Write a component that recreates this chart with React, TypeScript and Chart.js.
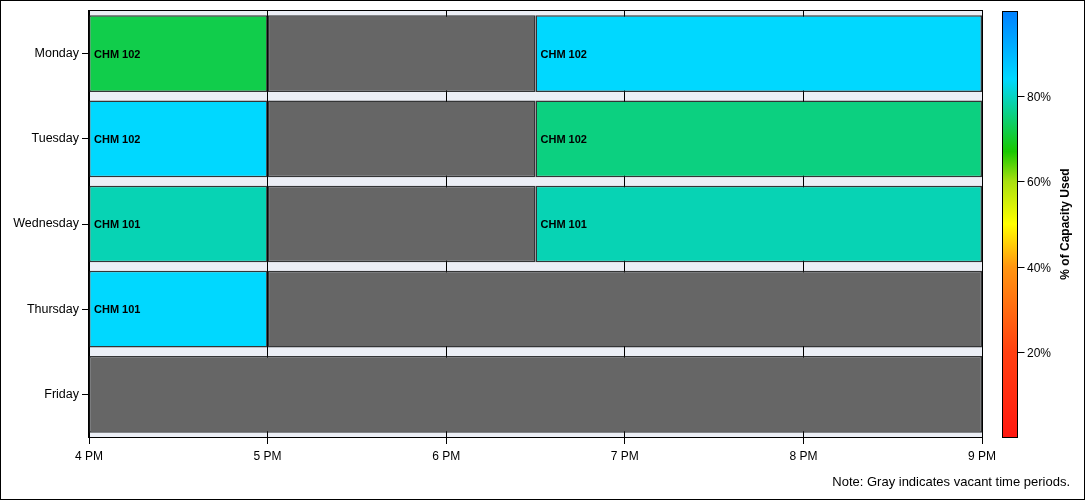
import React, { useEffect, useRef } from "react";
import { Chart, registerables } from "chart.js";

Chart.register(...registerables);

const days = ["Monday", "Tuesday", "Wednesday", "Thursday", "Friday"];

const sessionDay = ["Monday", "Monday", "Tuesday", "Tuesday", "Wednesday", "Wednesday", "Thursday"];
const sessionStart = [16, 18.5, 16, 18.5, 16, 18.5, 16];
const sessionEnd = [17, 21, 17, 21, 17, 21, 17];
const sessionCourse = ["CHM 102", "CHM 102", "CHM 102", "CHM 102", "CHM 101", "CHM 101", "CHM 101"];
const sessionCapacity = [72, 84, 84, 75.5, 79, 79, 84];

const vacantDay = ["Monday", "Tuesday", "Wednesday", "Thursday", "Friday"];
const vacantStart = [17, 17, 17, 17, 16];
const vacantEnd = [18.5, 18.5, 18.5, 21, 21];

const hourValues = [16, 17, 18, 19, 20, 21];
const hourLabels = ["4 PM", "5 PM", "6 PM", "7 PM", "8 PM", "9 PM"];

const legendTicks = [20, 40, 60, 80];
const legendTitle = "% of Capacity Used";
const noteText = "Note: Gray indicates vacant time periods.";

const FONT = "'Liberation Sans', Arial, sans-serif";

// colour ramp used by the legend and the bars (position 0..1)
const rampStops: [number, number[]][] = [
  [0, [255, 24, 16]],
  [0.2, [255, 64, 16]],
  [0.4, [255, 150, 16]],
  [0.5, [255, 255, 0]],
  [0.6, [168, 224, 16]],
  [0.67, [24, 200, 0]],
  [0.84, [0, 216, 255]],
  [1, [0, 128, 255]],
];

function rampColor(pct: number): string {
  const t = Math.max(0, Math.min(1, pct / 100));
  for (let i = 0; i < rampStops.length - 1; i++) {
    const [a, ca] = rampStops[i];
    const [b, cb] = rampStops[i + 1];
    if (t >= a && t <= b) {
      const f = (t - a) / (b - a);
      const c = ca.map((v, k) => Math.round(v + (cb[k] - v) * f));
      return `rgb(${c[0]},${c[1]},${c[2]})`;
    }
  }
  const c = rampStops[rampStops.length - 1][1];
  return `rgb(${c[0]},${c[1]},${c[2]})`;
}

const chromePlugin = {
  id: "chrome",
  beforeDraw(chart: any) {
    const { ctx, chartArea: a } = chart;
    ctx.save();
    ctx.fillStyle = "#ffffff";
    ctx.fillRect(0, 0, chart.width, chart.height);
    ctx.fillStyle = "#eceff6";
    ctx.fillRect(a.left, a.top, a.right - a.left, a.bottom - a.top);
    ctx.restore();
  },
  afterDatasetsDraw(chart: any) {
    const { ctx, chartArea: a } = chart;
    ctx.save();
    // labels on sessions
    const meta = chart.getDatasetMeta(0);
    ctx.font = `bold 11px ${FONT}`;
    ctx.fillStyle = "#000";
    ctx.textAlign = "left";
    ctx.textBaseline = "middle";
    meta.data.forEach((el: any, i: number) => {
      const left = Math.min(el.x, el.base);
      ctx.fillText(sessionCourse[i], left + 5, el.y + 1);
    });
    // plot frame
    ctx.strokeStyle = "#000";
    ctx.lineWidth = 1;
    ctx.strokeRect(a.left - 0.5, a.top - 0.5, a.right - a.left + 1, a.bottom - a.top + 1);
    ctx.restore();
  },
  afterDraw(chart: any) {
    const { ctx, chartArea: a } = chart;
    ctx.save();
    // colour bar
    const x0 = 1002;
    const x1 = 1017;
    const y0 = a.top;
    const y1 = a.bottom;
    const g = ctx.createLinearGradient(0, y1, 0, y0);
    rampStops.forEach(([p, c]) => g.addColorStop(p, `rgb(${c[0]},${c[1]},${c[2]})`));
    ctx.fillStyle = g;
    ctx.fillRect(x0, y0, x1 - x0, y1 - y0);
    ctx.strokeStyle = "#000";
    ctx.lineWidth = 1;
    ctx.strokeRect(x0 + 0.5, y0 + 0.5, x1 - x0, y1 - y0);
    ctx.font = `12px ${FONT}`;
    ctx.fillStyle = "#000";
    ctx.textAlign = "left";
    ctx.textBaseline = "middle";
    legendTicks.forEach((v) => {
      const y = Math.round(y1 - (v / 100) * (y1 - y0)) + 0.5;
      ctx.beginPath();
      ctx.moveTo(x1 + 0.5, y);
      ctx.lineTo(x1 + 7.5, y);
      ctx.stroke();
      ctx.fillText(`${v}%`, x1 + 10, y + 1);
    });
    // legend title
    ctx.save();
    ctx.translate(1066, (y0 + y1) / 2);
    ctx.rotate(-Math.PI / 2);
    ctx.font = `bold 12px ${FONT}`;
    ctx.textAlign = "center";
    ctx.textBaseline = "middle";
    ctx.fillText(legendTitle, 0, 0);
    ctx.restore();
    // note
    ctx.font = `13px ${FONT}`;
    ctx.textAlign = "right";
    ctx.textBaseline = "middle";
    ctx.fillText(noteText, 1070, 482);
    // outer border
    ctx.strokeRect(0.5, 0.5, chart.width - 1, chart.height - 1);
    ctx.restore();
  },
};

export default function App() {
  const ref = useRef<HTMLCanvasElement>(null);
  useEffect(() => {
    if (!ref.current) return;
    const sessionData = sessionDay.map((d, i) => ({ y: d, x: [sessionStart[i], sessionEnd[i]] }));
    const vacantData = vacantDay.map((d, i) => ({ y: d, x: [vacantStart[i], vacantEnd[i]] }));
    const chart = new Chart(ref.current, {
      type: "bar",
      data: {
        labels: days,
        datasets: [
          {
            label: "Sessions",
            data: sessionData as any,
            backgroundColor: sessionCapacity.map(rampColor),
            borderColor: "rgba(20,20,20,0.85)",
            borderWidth: 1.5,
            borderSkipped: false,
            barPercentage: 0.9,
            categoryPercentage: 1,
            grouped: false,
          },
          {
            label: "Vacant",
            data: vacantData as any,
            backgroundColor: "#666666",
            borderColor: "rgba(20,20,20,0.85)",
            borderWidth: 1.5,
            borderSkipped: false,
            barPercentage: 0.9,
            categoryPercentage: 1,
            grouped: false,
          },
        ],
      },
      options: {
        indexAxis: "y",
        responsive: false,
        animation: false,
        layout: { padding: { top: 11, right: 103, left: 0, bottom: 0 } },
        plugins: { legend: { display: false }, tooltip: { enabled: false } },
        scales: {
          x: {
            type: "linear",
            min: hourValues[0],
            max: hourValues[hourValues.length - 1],
            afterFit: (s: any) => {
              s.height = 63;
            },
            afterBuildTicks: (s: any) => {
              s.ticks = hourValues.map((v) => ({ value: v }));
            },
            ticks: {
              font: { family: FONT, size: 12 },
              color: "#000",
              padding: 5,
              maxRotation: 0,
              callback: (v: any) => {
                const i = hourValues.indexOf(Number(v));
                return i >= 0 ? hourLabels[i] : "";
              },
            },
            grid: { color: "#000", lineWidth: 1, tickLength: 7, drawOnChartArea: true },
            border: { display: true, color: "#000" },
          },
          y: {
            type: "category",
            labels: days,
            offset: true,
            afterFit: (s: any) => {
              s.width = 89;
            },
            ticks: { font: { family: FONT, size: 12.5 }, color: "#000", padding: 3 },
            grid: { display: true, offset: false, drawOnChartArea: false, color: "#000", tickLength: 7 },
            border: { display: true, color: "#000" },
          },
        },
      },
      plugins: [chromePlugin],
    });
    return () => chart.destroy();
  }, []);
  return (
    <div style={{ position: "absolute", left: 0, top: 0, width: 1085, height: 500 }}>
      <canvas ref={ref} width={1085} height={500} />
    </div>
  );
}
